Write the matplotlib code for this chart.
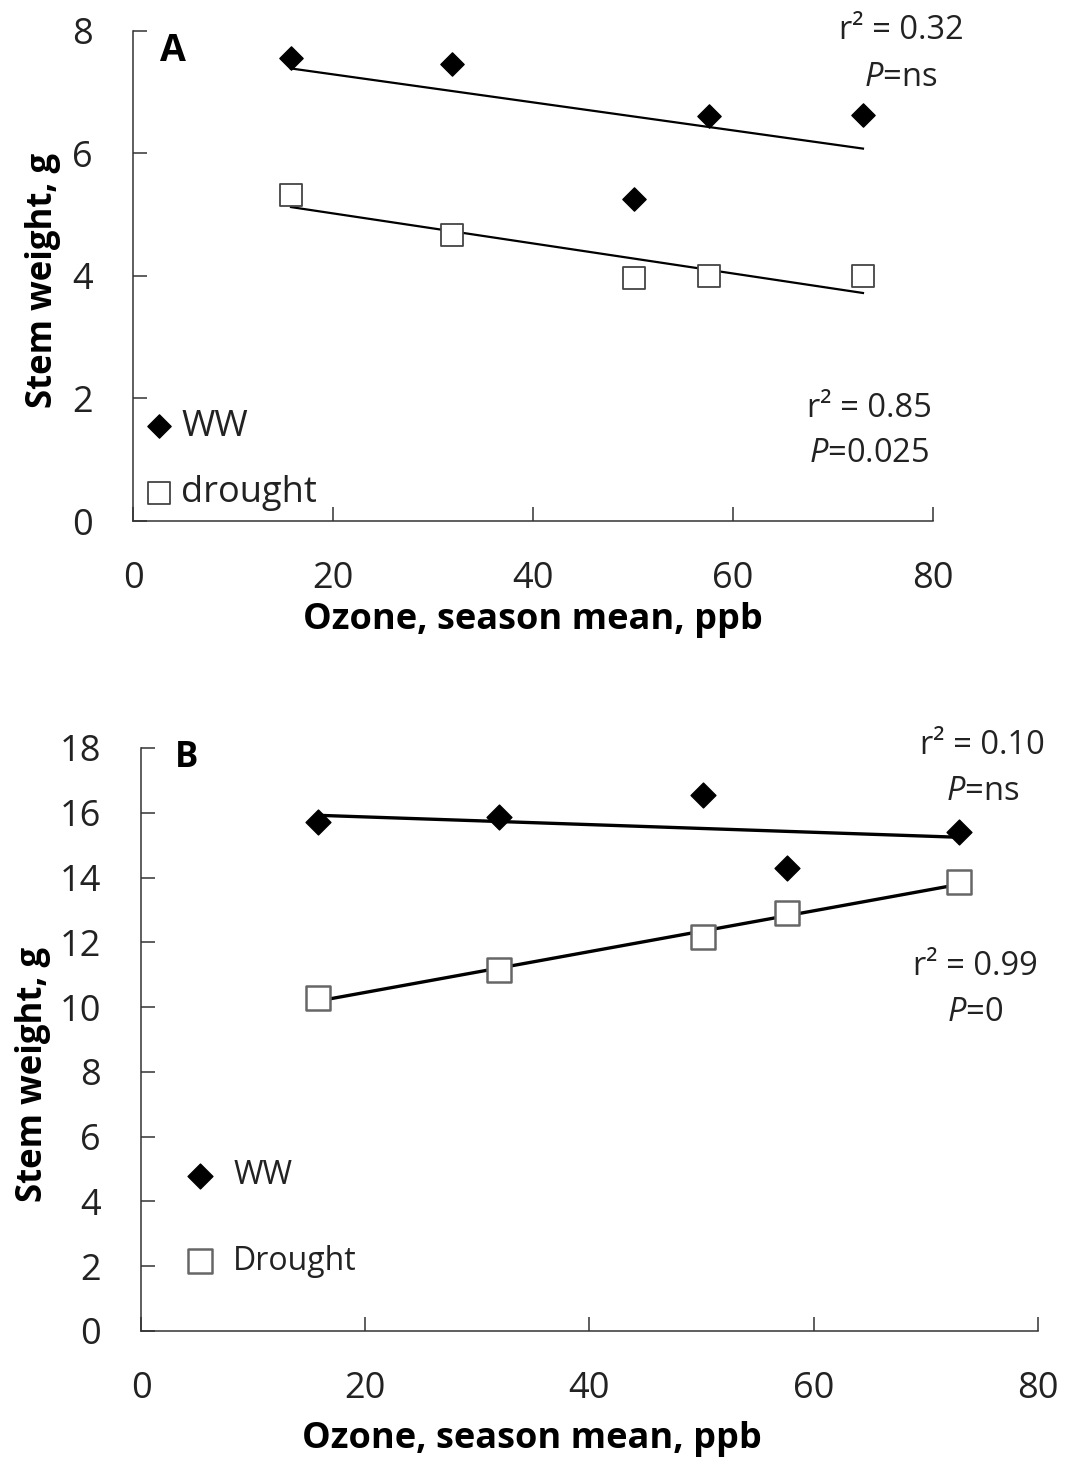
import numpy as np
import matplotlib
matplotlib.use("Agg")
import matplotlib.pyplot as plt

plt.rcParams['font.family'] = ['Open Sans', 'DejaVu Sans']
plt.rcParams['mathtext.fontset'] = 'custom'
plt.rcParams['mathtext.rm'] = 'Open Sans'
plt.rcParams['mathtext.it'] = 'Open Sans:italic'

# ozone season means (ppb)
ozone = [15.8, 31.9, 50.1, 57.6, 73.0]

# panel A stem weight (g)
a_ww = [7.56, 7.46, 5.26, 6.61, 6.63]
a_drought = [5.32, 4.67, 3.97, 4.00, 4.00]

# panel B stem weight (g)
b_ww = [15.71, 15.87, 16.55, 14.29, 15.41]
b_drought = [10.28, 11.15, 12.16, 12.90, 13.86]

x_ticks = [0, 20, 40, 60, 80]
a_yticks = [0, 2, 4, 6, 8]
b_yticks = [0, 2, 4, 6, 8, 10, 12, 14, 16, 18]

fig = plt.figure(figsize=(10.66, 14.66), dpi=100)
axA = fig.add_axes([0.1248, 0.6446, 0.7504, 0.3343])
axB = fig.add_axes([0.1323, 0.0921, 0.8414, 0.3977])

txt = '#222222'


def style(ax, yticks, ylim):
    for s in ['top', 'right']:
        ax.spines[s].set_visible(False)
    for s in ['left', 'bottom']:
        ax.spines[s].set_linewidth(1.1)
        ax.spines[s].set_color('#333333')
    ax.set_xlim(0, 80)
    ax.set_ylim(*ylim)
    ax.set_xticks(x_ticks)
    ax.set_yticks(yticks)
    ax.tick_params(direction='in', length=10, width=1.1, colors='#333333',
                   labelsize=26, labelcolor=txt, pad=29)
    ax.set_xlabel('Ozone, season mean, ppb', fontsize=26, fontweight='bold')
    ax.set_ylabel('Stem weight, g', fontsize=25, fontweight='bold')


def fit_line(ax, y, lw):
    x = np.array(ozone)
    k, b = np.polyfit(x, y, 1)
    xs = np.array([x.min(), x.max()])
    ax.plot(xs, k * xs + b, color='black', lw=lw, zorder=2)


def note(ax, x, y, s):
    ax.text(x, y, s, transform=ax.transAxes, fontsize=23.5, ha='center', va='center', color=txt)


# ---- panel A
style(axA, a_yticks, (0, 8))
axA.xaxis.set_label_coords(0.5, -0.165)
axA.yaxis.set_label_coords(-0.09, 0.49)
fit_line(axA, a_ww, 1.6)
fit_line(axA, a_drought, 1.6)
hA1 = axA.scatter(ozone, a_ww, marker='D', s=140, color='black', zorder=3, label='WW')
hA2 = axA.scatter(ozone, a_drought, marker='s', s=260, facecolor='white',
                  edgecolor='#444444', linewidth=1.3, zorder=3, label='drought')
axA.text(0.034, 0.998, 'A', transform=axA.transAxes, fontsize=27, fontweight='bold',
         ha='left', va='top')
note(axA, 0.96, 1.0, 'r² = 0.32')
note(axA, 0.96, 0.905, '$\\it{P}$=ns')
note(axA, 0.92, 0.23, 'r² = 0.85')
note(axA, 0.92, 0.137, '$\\it{P}$=0.025')
axA.legend(handles=[hA1, hA2], loc='center left', bbox_to_anchor=(0.015, 0.1245),
           frameon=False, fontsize=26, handlelength=0.8, handletextpad=0.2,
           labelspacing=0.85, borderpad=0, borderaxespad=0, labelcolor=txt)

# ---- panel B
style(axB, b_yticks, (0, 18))
axB.xaxis.set_label_coords(0.436, -0.155)
axB.yaxis.set_label_coords(-0.1, 0.44)
fit_line(axB, b_ww, 2.4)
fit_line(axB, b_drought, 2.4)
hB1 = axB.scatter(ozone, b_ww, marker='D', s=160, color='black', zorder=3, label='WW')
hB2 = axB.scatter(ozone, b_drought, marker='s', s=280, facecolor='white',
                  edgecolor='#666666', linewidth=1.8, zorder=3, label='Drought')
axB.text(0.038, 1.014, 'B', transform=axB.transAxes, fontsize=25, fontweight='bold',
         ha='left', va='top')
note(axB, 0.938, 1.005, 'r² = 0.10')
note(axB, 0.938, 0.925, '$\\it{P}$=ns')
note(axB, 0.93, 0.625, 'r² = 0.99')
note(axB, 0.93, 0.546, '$\\it{P}$=0')
axB.legend(handles=[hB1, hB2], loc='center left', bbox_to_anchor=(0.051, 0.193),
           frameon=False, fontsize=23, handlelength=0.8, handletextpad=0.65,
           labelspacing=1.65, borderpad=0, borderaxespad=0, labelcolor=txt)

fig.savefig('out.png', dpi=100)
